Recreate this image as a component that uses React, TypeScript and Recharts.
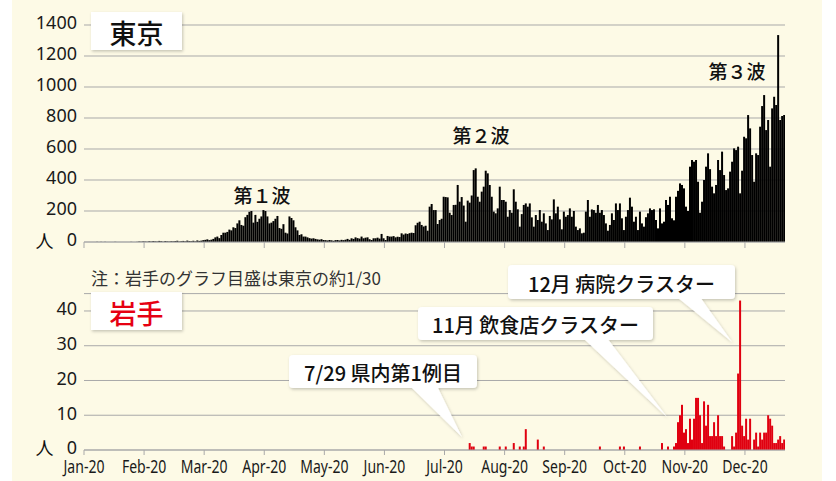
import { BarChart, Bar, XAxis, YAxis, CartesianGrid } from 'recharts'

document.body.style.margin = '0'

// x axis: one bar per day, a tick every 30 days
const monthLabels = ['Jan-20', 'Feb-20', 'Mar-20', 'Apr-20', 'May-20', 'Jun-20', 'Jul-20', 'Aug-20', 'Sep-20', 'Oct-20', 'Nov-20', 'Dec-20']
const monthTicks = [0, 30, 60, 90, 120, 150, 180, 210, 240, 270, 300, 330]
const tokyoTicks = [0, 200, 400, 600, 800, 1000, 1200, 1400]
const iwateTicks = [0, 10, 20, 30, 40]

// 東京 daily cases, one block per tick interval
const tokyo01 = [0, 0, 0, 0, 0, 0, 1, 0, 1, 0, 1, 0, 0, 0, 0, 1, 0, 0, 0, 0, 0, 0, 0, 1, 0, 0, 1, 3, 2, 4]
const tokyo02 = [3, 2, 5, 3, 6, 4, 3, 7, 5, 2, 6, 4, 3, 5, 4, 6, 8, 3, 5, 7, 4, 9, 6, 5, 8, 4, 10, 7, 9, 12]
const tokyo03 = [14, 17, 12, 15, 20, 30, 35, 25, 45, 60, 60, 65, 80, 75, 95, 90, 120, 140, 110, 105, 160, 175, 195, 200, 125, 175, 130, 150, 165, 206]
const tokyo04 = [200, 165, 120, 125, 135, 150, 168, 90, 85, 115, 60, 55, 165, 155, 140, 95, 75, 45, 50, 35, 35, 30, 25, 22, 24, 20, 17, 15, 18, 13]
const tokyo05 = [12, 10, 13, 11, 8, 12, 13, 10, 14, 12, 15, 20, 14, 24, 20, 30, 25, 22, 35, 24, 28, 30, 18, 13, 24, 24, 28, 22, 52, 24]
const tokyo06 = [13, 39, 35, 35, 38, 30, 34, 32, 56, 48, 55, 52, 57, 60, 58, 108, 124, 131, 110, 100, 105, 73, 228, 245, 206, 206, 116, 142, 150, 292]
const tokyo07 = [290, 288, 189, 174, 239, 240, 368, 260, 290, 235, 131, 267, 254, 300, 464, 475, 292, 260, 325, 357, 460, 443, 368, 292, 196, 185, 217, 357, 271, 271]
const tokyo08 = [260, 163, 206, 189, 340, 260, 211, 99, 180, 239, 249, 228, 249, 159, 99, 174, 142, 206, 131, 185, 120, 77, 168, 146, 275, 185, 228, 146, 82, 196]
const tokyo09 = [163, 174, 217, 163, 200, 99, 77, 88, 56, 60, 196, 271, 163, 210, 206, 189, 239, 189, 206, 174, 120, 73, 110, 185, 142, 249, 206, 249, 153, 77]
const tokyo10 = [163, 206, 286, 228, 131, 163, 77, 196, 120, 99, 160, 185, 217, 206, 211, 142, 88, 217, 120, 131, 271, 239, 292, 153, 140, 292, 330, 378, 368, 346]
const tokyo11 = [228, 200, 486, 529, 518, 529, 389, 189, 260, 400, 486, 572, 470, 357, 314, 368, 529, 464, 583, 432, 335, 346, 454, 518, 604, 593, 615, 314, 460, 679]
const tokyo12 = [669, 819, 733, 561, 389, 572, 561, 744, 877, 948, 722, 787, 486, 862, 937, 884, 1335, 787, 813, 820]

// 岩手: only the days with cases (day index, cases)
const iwateDays = [192, 193, 194, 199, 200, 207, 210, 214, 217, 219, 220, 226, 229, 257, 267, 269, 277, 288, 291, 294,
  295, 296, 297, 298, 299, 300, 301, 302, 303, 304, 305, 306, 307, 308, 309, 310, 311, 312, 313, 314, 315, 316, 317, 318, 319,
  323, 324, 325, 326, 327, 328, 329, 330, 331, 332,
  334, 335, 336, 337, 338, 339, 340, 341, 342, 343, 344, 345, 346, 347, 348, 349]
const iwateCases = [2, 1, 1, 1, 1, 1, 1, 2, 1, 1, 6, 3, 1, 1, 1, 1, 1, 2, 1, 1,
  2, 8, 10, 13, 5, 6, 2, 9, 3, 9, 15, 15, 10, 2, 14, 7, 13, 4, 4, 8, 4, 10, 4, 4, 1,
  4, 1, 5, 22, 43, 7, 4, 9, 3, 9,
  3, 5, 1, 5, 3, 5, 5, 10, 9, 7, 2, 2, 3, 4, 2, 3]

const tokyo = [...tokyo01, ...tokyo02, ...tokyo03, ...tokyo04, ...tokyo05, ...tokyo06,
  ...tokyo07, ...tokyo08, ...tokyo09, ...tokyo10, ...tokyo11, ...tokyo12]
const iwate = tokyo.map(() => 0)
iwateDays.forEach((d, k) => { iwate[d] = iwateCases[k] })

const rows = tokyo.map((v, i) => ({ x: i + 0.5, tokyo: v, iwate: iwate[i] }))

const GRID = '#a9a9a9'
const JP = '"Noto Sans CJK JP", "Noto Sans", sans-serif'

// condensed month labels like the original
// eslint-disable-next-line @typescript-eslint/no-explicit-any
function MonthTick({ x, y, payload }: any) {
  const k = monthTicks.indexOf(payload.value)
  return (
    <g transform={`translate(${x},${y})`}>
      <text dy={15} textAnchor="middle" transform="scale(0.78,1)" fontSize={18} fill="#1a1a1a">
        {monthLabels[k]}
      </text>
    </g>
  )
}

function Callout({ box, wedge, label }: { box: [number, number, number, number]; wedge: string; label: string }) {
  const [bx, by, bw, bh] = box
  return (
    <g>
      <g filter="url(#shadow)">
        <polygon points={wedge} fill="#fff" />
        <rect x={bx} y={by} width={bw} height={bh} rx={4} fill="#fff" />
      </g>
      <text x={bx + bw / 2} y={by + bh / 2 + 1} textAnchor="middle" dominantBaseline="central"
        fontSize={20} fontWeight={500} fill="#111" fontFamily={JP}>
        {label}
      </text>
    </g>
  )
}

export default function App() {
  return (
    <div style={{ position: 'relative', width: 836, height: 481, background: '#fff', fontFamily: '"Noto Sans", sans-serif', overflow: 'hidden' }}>
      <div style={{ position: 'absolute', left: 12, top: 0, width: 810, height: 481, background: '#fdfae6' }} />

      <div style={{ position: 'absolute', left: 0, top: 0 }}>
        <BarChart width={836} height={262} data={rows} margin={{ top: 25, right: 51, left: 0, bottom: 0 }} barCategoryGap="8%">
          <CartesianGrid vertical={false} stroke={GRID} />
          <XAxis dataKey="x" type="number" domain={[0, 350]} ticks={monthTicks} allowDataOverflow interval={0}
            height={20} tickSize={6} tickFormatter={() => ''}
            axisLine={{ stroke: GRID }} tickLine={{ stroke: GRID }} />
          <YAxis domain={[0, 1400]} ticks={tokyoTicks} width={84} tickSize={0} tickMargin={7} interval={0}
            axisLine={false} tickLine={false} tick={{ fill: '#1a1a1a', fontSize: 18, dy: -2 }} />
          <Bar dataKey="tokyo" fill="#000" isAnimationActive={false} />
        </BarChart>
      </div>

      <div style={{ position: 'absolute', left: 0, top: 250 }}>
        <BarChart width={836} height={230} data={rows} margin={{ top: 43.6, right: 51, left: 0, bottom: 0 }} barCategoryGap="8%">
          <CartesianGrid vertical={false} stroke={GRID} />
          <XAxis dataKey="x" type="number" domain={[0, 350]} ticks={monthTicks} allowDataOverflow interval={0}
            height={30} tickSize={5} tickMargin={3} tick={<MonthTick />}
            axisLine={{ stroke: GRID }} tickLine={{ stroke: GRID }} />
          <YAxis domain={[0, 45]} ticks={iwateTicks} width={84} tickSize={0} tickMargin={7} interval={0}
            axisLine={false} tickLine={false} tick={{ fill: '#1a1a1a', fontSize: 18, dy: -2 }} />
          <Bar dataKey="iwate" fill="#e00010" isAnimationActive={false} />
        </BarChart>
      </div>

      <svg width={836} height={481} style={{ position: 'absolute', left: 0, top: 0, pointerEvents: 'none' }}>
        <defs>
          <filter id="shadow" x="-20%" y="-20%" width="140%" height="160%">
            <feDropShadow dx="1" dy="1.5" stdDeviation="1.5" floodColor="#000" floodOpacity="0.22" />
          </filter>
        </defs>

        <g filter="url(#shadow)">
          <rect x={91} y={12} width={91} height={38} fill="#fff" />
          <rect x={91} y={292} width={91} height={38} fill="#fff" />
        </g>
        <text x={136.5} y={32} textAnchor="middle" dominantBaseline="central" fontSize={27} fontWeight={500} fill="#111" fontFamily={JP}>東京</text>
        <text x={136.5} y={312} textAnchor="middle" dominantBaseline="central" fontSize={27} fontWeight={500} fill="#e60012" fontFamily={JP}>岩手</text>

        <text x={91} y={277} dominantBaseline="central" fontSize={17} fill="#333" fontFamily={JP}>注：岩手のグラフ目盛は東京の約1/30</text>

        <text x={262} y={194} textAnchor="middle" dominantBaseline="central" fontSize={19} fontWeight={500} fill="#111" fontFamily={JP}>第１波</text>
        <text x={481} y={134} textAnchor="middle" dominantBaseline="central" fontSize={19} fontWeight={500} fill="#111" fontFamily={JP}>第２波</text>
        <text x={737} y={70} textAnchor="middle" dominantBaseline="central" fontSize={19} fontWeight={500} fill="#111" fontFamily={JP}>第３波</text>

        <text x={44.5} y={240} textAnchor="middle" dominantBaseline="central" fontSize={18} fill="#111" fontFamily={JP}>人</text>
        <text x={44.5} y={447} textAnchor="middle" dominantBaseline="central" fontSize={18} fill="#111" fontFamily={JP}>人</text>

        <Callout box={[289, 355, 188, 33]} wedge="410,386 437,386 462,437" label="7/29 県内第1例目" />
        <Callout box={[418, 307, 235, 33]} wedge="583,338 607,338 667,417" label="11月 飲食店クラスター" />
        <Callout box={[508, 265, 227, 34]} wedge="677,297 700,297 732,342" label="12月 病院クラスター" />
      </svg>
    </div>
  )
}
